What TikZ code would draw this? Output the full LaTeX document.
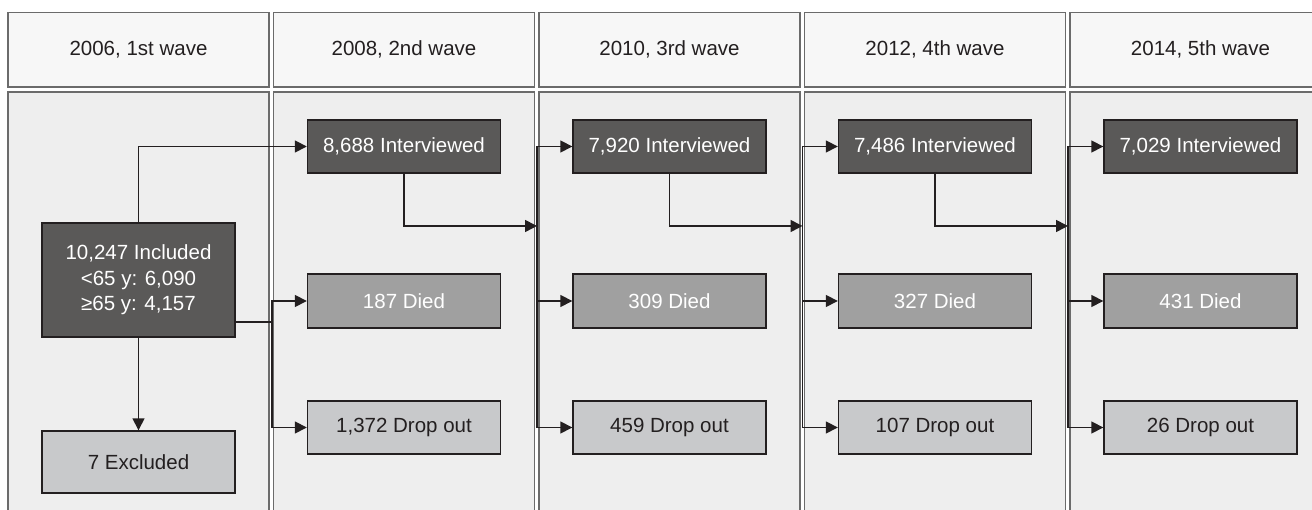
\documentclass[tikz,border=0pt]{standalone}
\usepackage{fontspec}
\setmainfont{Liberation Sans}
\usepackage{xcolor}
\usepackage{tikz}
\usetikzlibrary{positioning,arrows.meta}

\definecolor{linegray}{HTML}{6B6B6B}
\definecolor{headfill}{HTML}{F7F7F7}
\definecolor{bodyfill}{HTML}{EEEEEE}
\definecolor{boxline}{HTML}{231F20}
\definecolor{darkfill}{HTML}{5A5958}
\definecolor{diedfill}{HTML}{A0A0A0}
\definecolor{dropfill}{HTML}{C8C9CB}

\tikzset{
wavehead/.style={draw=linegray, line width=1.1pt, fill=headfill, text=boxline,
  minimum width=261pt, minimum height=74.5pt},
wavebody/.style={draw=linegray, line width=1.1pt, fill=bodyfill,
  minimum width=261pt, minimum height=438pt},
darkbox/.style={draw=boxline, line width=1.4pt, fill=darkfill, text=white,
  minimum width=193pt, minimum height=53pt},
diedbox/.style={draw=boxline, line width=1.4pt, fill=diedfill, text=white,
  minimum width=193pt, minimum height=54pt},
dropbox/.style={draw=boxline, line width=1.4pt, fill=dropfill, text=boxline,
  minimum width=193pt, minimum height=53pt},
link/.style={draw=boxline, line width=1.6pt},
flow/.style={link, -{Triangle[length=12pt,width=12pt]}}
}

\begin{document}
\begin{tikzpicture}[
x=1pt, y=1pt,
every node/.style={
align=center,
inner sep=2pt,
font=\fontsize{20.5}{25.5}\selectfont
}
]
\useasboundingbox (0,0) rectangle (1312,510);
\clip (0,0) rectangle (1312,510);
\fill[white] (0,0) rectangle (1312,510);

% wave columns
\node[wavehead] (head1) at (138.5,460.25) {2006, 1st wave};
\node[wavehead] (head2) at (404,460.25) {2008, 2nd wave};
\node[wavehead] (head3) at (669.5,460.25) {2010, 3rd wave};
\node[wavehead] (head4) at (935,460.25) {2012, 4th wave};
\node[wavehead] (head5) at (1200.5,460.25) {2014, 5th wave};

\node[wavebody] (body1) at (138.5,199) {};
\node[wavebody] (body2) at (404,199) {};
\node[wavebody] (body3) at (669.5,199) {};
\node[wavebody] (body4) at (935,199) {};
\node[wavebody] (body5) at (1200.5,199) {};

% 1st wave
\node[darkbox, minimum height=114pt] (incl) at (138.5,230)
{10,247 Included \\ <65 y: 6,090 \\ ≥65 y: 4,157};
\node[dropbox, minimum height=62pt] (excl) at (138.5,48) {7 Excluded};

% 2nd wave
\node[darkbox] (int2) at (404,363.5) {8,688 Interviewed};
\node[diedbox] (died2) at (404,209) {187 Died};
\node[dropbox] (drop2) at (404,82.5) {1,372 Drop out};

% 3rd wave
\node[darkbox] (int3) at (669.5,363.5) {7,920 Interviewed};
\node[diedbox] (died3) at (669.5,209) {309 Died};
\node[dropbox] (drop3) at (669.5,82.5) {459 Drop out};

% 4th wave
\node[darkbox] (int4) at (935,363.5) {7,486 Interviewed};
\node[diedbox] (died4) at (935,209) {327 Died};
\node[dropbox] (drop4) at (935,82.5) {107 Drop out};

% 5th wave
\node[darkbox] (int5) at (1200.5,363.5) {7,029 Interviewed};
\node[diedbox] (died5) at (1200.5,209) {431 Died};
\node[dropbox] (drop5) at (1200.5,82.5) {26 Drop out};

% splitting points
\coordinate (bus1) at (272,188);
\coordinate (bus2) at (537,284);
\coordinate (bus3) at (802.5,284);
\coordinate (bus4) at (1068,284);

\draw[flow] (incl.north) |- (int2.west);
\draw[flow] (incl.south) -- (excl.north);
\draw[link] ([yshift=-42pt]incl.east) -- (bus1);
\draw[flow] (bus1) |- (died2.west);
\draw[flow] (bus1) |- (drop2.west);

\draw[flow] (int2.south) |- (bus2);
\draw[flow] (bus2) |- (int3.west);
\draw[flow] (bus2) |- (died3.west);
\draw[flow] (bus2) |- (drop3.west);

\draw[flow] (int3.south) |- (bus3);
\draw[flow] (bus3) |- (int4.west);
\draw[flow] (bus3) |- (died4.west);
\draw[flow] (bus3) |- (drop4.west);

\draw[flow] (int4.south) |- (bus4);
\draw[flow] (bus4) |- (int5.west);
\draw[flow] (bus4) |- (died5.west);
\draw[flow] (bus4) |- (drop5.west);
\end{tikzpicture}
\end{document}
